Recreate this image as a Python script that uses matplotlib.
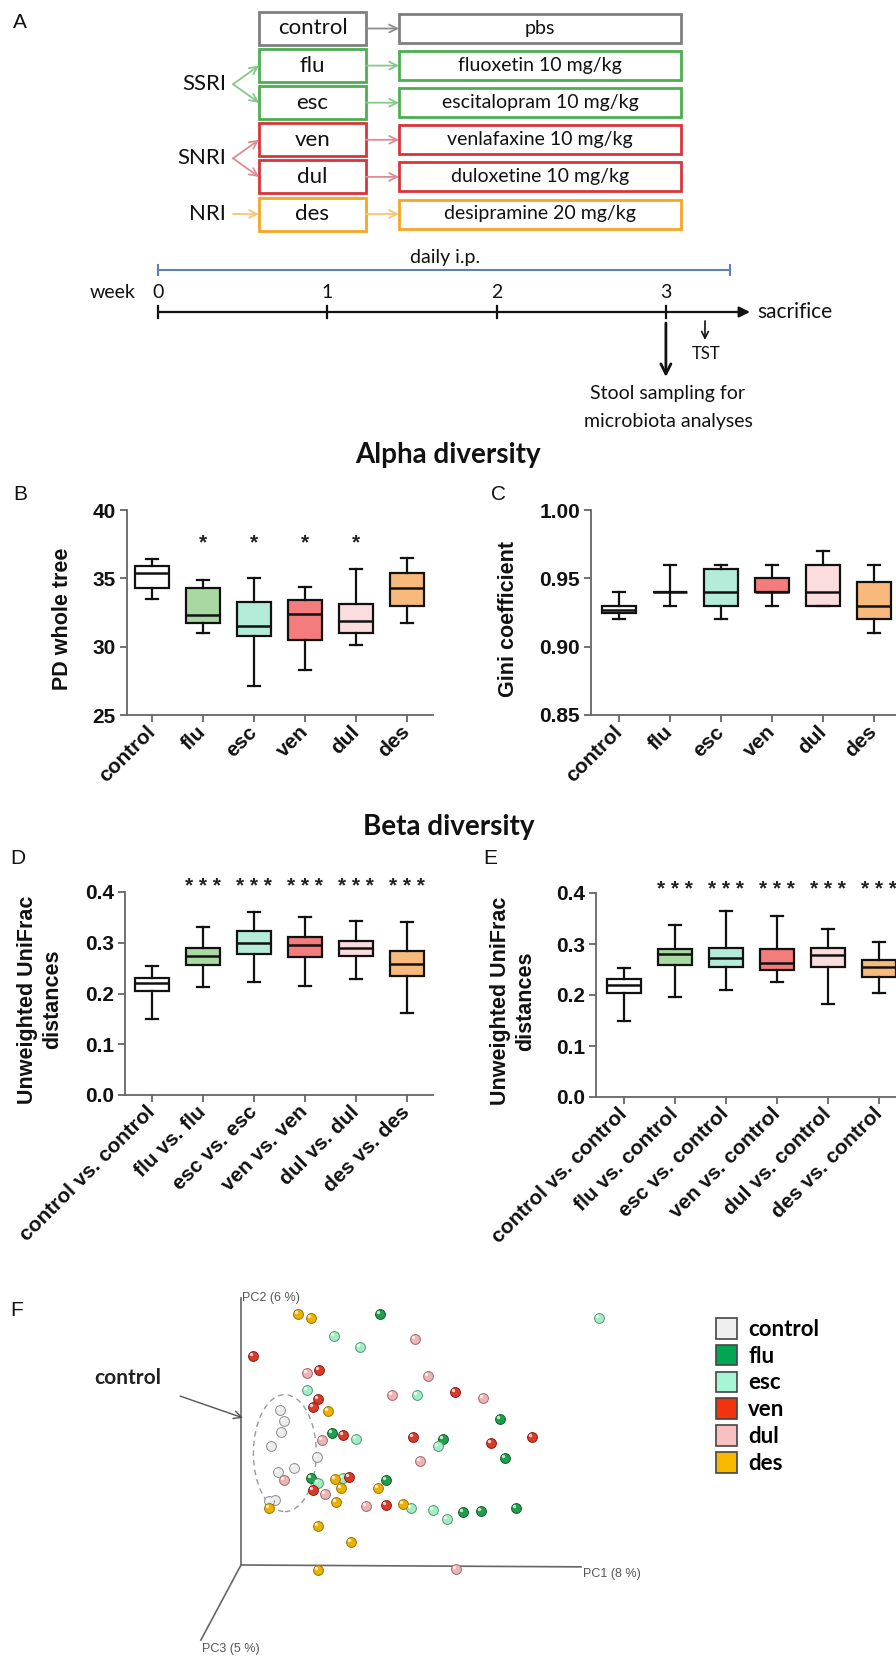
import matplotlib
matplotlib.use('Agg')
import matplotlib.pyplot as plt
from matplotlib.patches import Rectangle, Ellipse, Patch
import matplotlib.transforms as mtransforms

W, H = 896, 1657
fig = plt.figure(figsize=(W / 100, H / 100), dpi=100)

CHART_FONT = 'Liberation Sans'
DIAG_FONT = 'Lato'

# ---------------- data ----------------
groups = ['control', 'flu', 'esc', 'ven', 'dul', 'des']
box_colors = ['#ffffff', '#a9d8a2', '#b5ebd9', '#f47c7c', '#fbdde0', '#f8ba7c']

# panel A: treatments
drug_doses = ['pbs', 'fluoxetin 10 mg/kg', 'escitalopram 10 mg/kg',
              'venlafaxine 10 mg/kg', 'duloxetine 10 mg/kg', 'desipramine 20 mg/kg']
drug_class = ['', 'SSRI', 'SSRI', 'SNRI', 'SNRI', 'NRI']
edge_cols = ['#7f7f7f', '#4caf50', '#4caf50', '#d9343b', '#d9343b', '#f6a623']
arrow_cols = ['#8c8c8c', '#86c98a', '#86c98a', '#dc8c93', '#dc8c93', '#f7c57a']
weeks = [0, 1, 2, 3]

# panel B: PD whole tree
pd_low = [33.5, 31.0, 27.1, 28.3, 30.1, 31.7]
pd_q1 = [34.3, 31.7, 30.8, 30.5, 31.0, 33.0]
pd_med = [35.4, 32.3, 31.5, 32.4, 31.9, 34.3]
pd_q3 = [35.9, 34.3, 33.3, 33.4, 33.1, 35.4]
pd_high = [36.4, 34.9, 35.0, 34.4, 35.7, 36.5]
pd_sig = ['', '*', '*', '*', '*', '']

# panel C: Gini coefficient
gini_low = [0.920, 0.930, 0.920, 0.930, 0.930, 0.910]
gini_q1 = [0.925, 0.940, 0.930, 0.940, 0.930, 0.920]
gini_med = [0.927, 0.940, 0.940, 0.940, 0.940, 0.930]
gini_q3 = [0.930, 0.940, 0.957, 0.950, 0.960, 0.947]
gini_high = [0.940, 0.960, 0.960, 0.960, 0.970, 0.960]

# panel D: unweighted UniFrac within group
within_low = [0.150, 0.212, 0.222, 0.214, 0.228, 0.162]
within_q1 = [0.205, 0.256, 0.277, 0.271, 0.273, 0.234]
within_med = [0.220, 0.273, 0.300, 0.295, 0.289, 0.259]
within_q3 = [0.231, 0.289, 0.324, 0.311, 0.304, 0.284]
within_high = [0.254, 0.331, 0.361, 0.351, 0.342, 0.340]
within_sig = ['', '***', '***', '***', '***', '***']

# panel E: unweighted UniFrac vs control
vsctrl_low = [0.150, 0.197, 0.210, 0.226, 0.182, 0.203]
vsctrl_q1 = [0.203, 0.258, 0.254, 0.250, 0.254, 0.236]
vsctrl_med = [0.220, 0.280, 0.272, 0.262, 0.278, 0.254]
vsctrl_q3 = [0.232, 0.291, 0.292, 0.290, 0.292, 0.269]
vsctrl_high = [0.253, 0.338, 0.364, 0.355, 0.330, 0.304]
vsctrl_sig = ['', '***', '***', '***', '***', '***']

within_labels = [f'{g} vs. {g}' for g in groups]
vsctrl_labels = [f'{g} vs. control' for g in groups]

# panel F: PCoA scores (projected PC1 / PC2, relative to axis length)
pc1 = {
    'control': [0.115, 0.126, 0.118, 0.088, 0.224, 0.156, 0.109, 0.100, 0.082],
    'flu': [0.409, 0.268, 0.206, 0.426, 0.594, 0.762, 0.776, 0.653, 0.706, 0.809],
    'esc': [0.274, 0.350, 0.194, 0.338, 0.518, 0.226, 0.300, 0.500, 0.565, 0.579, 0.606, 1.053],
    'ven': [0.035, 0.229, 0.226, 0.212, 0.300, 0.506, 0.318, 0.212, 0.426, 0.629, 0.735, 0.856],
    'dul': [0.512, 0.194, 0.550, 0.444, 0.238, 0.526, 0.126, 0.247, 0.368, 0.712, 0.632],
    'des': [0.168, 0.206, 0.256, 0.082, 0.276, 0.294, 0.279, 0.403, 0.476, 0.226, 0.324, 0.226],
}
pc2 = {
    'control': [0.581, 0.539, 0.498, 0.446, 0.404, 0.363, 0.348, 0.243, 0.240],
    'flu': [0.940, 0.494, 0.326, 0.318, 0.472, 0.547, 0.401, 0.199, 0.202, 0.213],
    'esc': [0.858, 0.816, 0.655, 0.472, 0.637, 0.307, 0.326, 0.213, 0.206, 0.446, 0.172, 0.925],
    'ven': [0.783, 0.730, 0.622, 0.592, 0.487, 0.479, 0.330, 0.281, 0.225, 0.648, 0.457, 0.479],
    'dul': [0.846, 0.719, 0.708, 0.637, 0.468, 0.390, 0.318, 0.266, 0.221, 0.625, -0.015],
    'des': [0.940, 0.925, 0.577, 0.213, 0.322, 0.288, 0.236, 0.288, 0.228, 0.146, 0.086, -0.019],
}
sphere_cols = {'control': '#ececec', 'flu': '#1f9e4b', 'esc': '#a3ecc6',
               'ven': '#d83a2c', 'dul': '#ecb4b4', 'des': '#e9b100'}
sphere_edges = {'control': '#8a8a8a', 'flu': '#0d5e28', 'esc': '#4d9a72',
                'ven': '#8a1c12', 'dul': '#a06868', 'des': '#9a7400'}
legend_cols = ['#efefef', '#00a651', '#a8f5d6', '#f2330e', '#f8c0c0', '#f8b900']


def axes_px(x0, y0, x1, y1):
    return fig.add_axes([x0 / W, 1 - y1 / H, (x1 - x0) / W, (y1 - y0) / H])


def box_panel(ax, lo, q1, med, q3, hi, sig, sig_y, ylim, ticks, fmt, ylabel,
              labels, xlim, label_x):
    stats = [dict(whislo=a, q1=b, med=c, q3=d, whishi=e)
             for a, b, c, d, e in zip(lo, q1, med, q3, hi)]
    bp = ax.bxp(stats, positions=range(len(stats)), widths=0.68, capwidths=0.24,
                patch_artist=True, showfliers=False,
                boxprops=dict(linewidth=1.6, edgecolor='#111111'),
                medianprops=dict(color='#111111', linewidth=1.8),
                whiskerprops=dict(color='#111111', linewidth=1.6),
                capprops=dict(color='#111111', linewidth=1.6))
    for patch, c in zip(bp['boxes'], box_colors):
        patch.set_facecolor(c)
    for i, s in enumerate(sig):
        if s:
            ax.text(i, sig_y, s.replace('*', '* ').strip(), ha='center', va='center',
                    fontsize=15, fontweight='bold', family=CHART_FONT, color='#222222')
    ax.set_xlim(*xlim)
    ax.set_ylim(*ylim)
    ax.set_yticks(ticks)
    ax.set_yticklabels([fmt % t for t in ticks])
    ax.set_xticks(range(len(labels)))
    ax.set_xticklabels(labels, rotation=45, ha='right', va='center', rotation_mode='anchor')
    for sp in ['top', 'right']:
        ax.spines[sp].set_visible(False)
    for sp in ['left', 'bottom']:
        ax.spines[sp].set_color('#666666')
        ax.spines[sp].set_linewidth(1.3)
    ax.tick_params(direction='out', length=5, width=1.3, color='#666666',
                   labelsize=15, labelcolor='#111111', pad=3)
    ax.tick_params(axis='x', pad=5)
    for t in ax.get_xticklabels() + ax.get_yticklabels():
        t.set_fontweight('bold')
        t.set_family(CHART_FONT)
    ax.set_ylabel(ylabel, fontsize=15.5, fontweight='bold', family=CHART_FONT,
                  va='center', linespacing=1.25, color='#111111')
    ax.yaxis.set_label_coords(label_x, 0.47)
    ax.set_facecolor('none')


# ---------------- panels B-E ----------------
axB = axes_px(127, 510, 433, 715)
box_panel(axB, pd_low, pd_q1, pd_med, pd_q3, pd_high, pd_sig, 37.6, (25, 40),
          [25, 30, 35, 40], '%d', 'PD whole tree', groups, (-0.49, 5.51), -0.212)

axC = axes_px(591, 510, 897, 715)
box_panel(axC, gini_low, gini_q1, gini_med, gini_q3, gini_high, [''] * 6, 0, (0.85, 1.00),
          [0.85, 0.90, 0.95, 1.00], '%.2f', 'Gini coefficient', groups, (-0.55, 5.45), -0.271)

axD = axes_px(125, 892, 433, 1095)
box_panel(axD, within_low, within_q1, within_med, within_q3, within_high, within_sig, 0.41,
          (0, 0.4), [0, 0.1, 0.2, 0.3, 0.4], '%.1f', 'Unweighted UniFrac\ndistances',
          within_labels, (-0.53, 5.51), -0.276)

axE = axes_px(596, 893, 902, 1097)
box_panel(axE, vsctrl_low, vsctrl_q1, vsctrl_med, vsctrl_q3, vsctrl_high, vsctrl_sig, 0.407,
          (0, 0.4), [0, 0.1, 0.2, 0.3, 0.4], '%.1f', 'Unweighted UniFrac\ndistances',
          vsctrl_labels, (-0.55, 5.45), -0.271)

# ---------------- panel F ----------------
axF = axes_px(0, 1257, 896, 1657)
axF.set_xlim(-241 / 340, 655 / 340)
axF.set_ylim(-92 / 267, 308 / 267)
axF.axis('off')
axline = dict(color='#666666', linewidth=1.2)
axF.plot([0, 0], [0, 1], **axline)
axF.plot([0, 1], [0, -0.007], **axline)
axF.plot([0, -0.118], [0, -0.281], **axline)
pc_font = dict(fontsize=9, color='#555555', family=CHART_FONT)
axF.text(0.003, 1.0, 'PC2 (6 %)', ha='left', va='center', **pc_font)
axF.text(1.006, -0.035, 'PC1 (8 %)', ha='left', va='center', **pc_font)
axF.text(-0.115, -0.315, 'PC3 (5 %)', ha='left', va='center', **pc_font)

axF.add_patch(Ellipse((0.129, 0.419), 0.185, 0.438, fill=False, edgecolor='#9a9a9a',
                      linestyle=(0, (4, 3)), linewidth=1.0))
hl = mtransforms.offset_copy(axF.transData, fig=fig, x=-1.6, y=1.6, units='points')
for g in groups:
    axF.scatter(pc1[g], pc2[g], s=50, color=sphere_cols[g], edgecolor=sphere_edges[g],
                linewidth=0.7, zorder=3, clip_on=False)
    axF.scatter(pc1[g], pc2[g], s=6, color='white', alpha=0.75, linewidth=0,
                zorder=4, transform=hl, clip_on=False)

axF.annotate('control', xy=(0.006, 0.551), xytext=(-0.332, 0.700),
             ha='center', va='center', fontsize=15, fontweight='bold', family=DIAG_FONT,
             color='#222222',
             arrowprops=dict(arrowstyle='->', color='#555555', linewidth=1.0,
                             shrinkA=12, shrinkB=0, mutation_scale=14))

handles = [Patch(facecolor=c, edgecolor='#444444', linewidth=1.2) for c in legend_cols]
fig.legend(handles, groups, loc='upper left', bbox_to_anchor=(716 / W, 1 - 1318 / H),
           frameon=False, borderpad=0, borderaxespad=0, handlelength=0.95,
           handleheight=1.05, handletextpad=0.5, labelspacing=0.22,
           prop=dict(family=DIAG_FONT, weight='bold', size=16))

# ---------------- overlay: panel A, titles, letters ----------------
ov = fig.add_axes([0, 0, 1, 1])
ov.set_xlim(0, W)
ov.set_ylim(H, 0)
ov.axis('off')
ov.patch.set_visible(False)

row_y = [28.5 + 37.1 * i for i in range(len(groups))]
for i, g in enumerate(groups):
    yc = row_y[i]
    ov.add_patch(Rectangle((259, yc - 16.5), 107, 33, fill=False,
                           edgecolor=edge_cols[i], linewidth=2))
    ov.add_patch(Rectangle((399, yc - 14.5), 282, 29, fill=False,
                           edgecolor=edge_cols[i], linewidth=2))
    ov.text(312.5, yc, g, ha='center', va='center', fontsize=16, family=DIAG_FONT,
            color='#111111')
    ov.text(540, yc, drug_doses[i], ha='center', va='center', fontsize=14,
            family=DIAG_FONT, color='#111111')
    ov.annotate('', xy=(399, yc), xytext=(366, yc),
                arrowprops=dict(arrowstyle='->', color=arrow_cols[i], linewidth=1.3,
                                shrinkA=0, shrinkB=0, mutation_scale=14))

for cls in ['SSRI', 'SNRI', 'NRI']:
    idx = [i for i, c in enumerate(drug_class) if c == cls]
    cy = sum(row_y[i] for i in idx) / len(idx)
    ov.text(226, cy, cls, ha='right', va='center', fontsize=16, family=DIAG_FONT,
            color='#111111')
    for i in idx:
        ov.annotate('', xy=(259, row_y[i]), xytext=(233, cy),
                    arrowprops=dict(arrowstyle='->', color=arrow_cols[i], linewidth=1.3,
                                    shrinkA=0, shrinkB=0, mutation_scale=14))

# timeline
wk_x = [158 + 169.3 * w for w in weeks]
ov.plot([wk_x[0], 730], [270, 270], color='#5b7fbf', linewidth=1.5)
for x in [wk_x[0], 730]:
    ov.plot([x, x], [265, 275], color='#5b7fbf', linewidth=1.5)
ov.text(445, 257, 'daily i.p.', ha='center', va='center', fontsize=14, family=DIAG_FONT,
        color='#111111')
ov.annotate('', xy=(750, 312), xytext=(wk_x[0], 312),
            arrowprops=dict(arrowstyle='-|>', color='#111111', linewidth=1.6,
                            shrinkA=0, shrinkB=0, mutation_scale=16))
for w, x in zip(weeks, wk_x):
    ov.plot([x, x], [306, 318], color='#111111', linewidth=1.6)
    ov.text(x, 292, str(w), ha='center', va='center', fontsize=14, family=DIAG_FONT,
            color='#111111')
ov.text(113, 292, 'week', ha='center', va='center', fontsize=14, family=DIAG_FONT,
        color='#111111')
ov.text(757, 312, 'sacrifice', ha='left', va='center', fontsize=15, family=DIAG_FONT,
        color='#111111')
ov.annotate('', xy=(705, 340), xytext=(705, 321),
            arrowprops=dict(arrowstyle='->', color='#111111', linewidth=1.2,
                            shrinkA=0, shrinkB=0, mutation_scale=12))
ov.text(706, 354, 'TST', ha='center', va='center', fontsize=12, family=DIAG_FONT,
        color='#111111')
ov.annotate('', xy=(wk_x[3], 377), xytext=(wk_x[3], 323),
            arrowprops=dict(arrowstyle='->', color='#111111', linewidth=2,
                            shrinkA=0, shrinkB=0, mutation_scale=18))
ov.text(668, 394, 'Stool sampling for', ha='center', va='center', fontsize=14,
        family=DIAG_FONT, color='#111111')
ov.text(668, 421, 'microbiota analyses', ha='center', va='center', fontsize=14,
        family=DIAG_FONT, color='#111111')

ov.text(448, 455, 'Alpha diversity', ha='center', va='center', fontsize=20,
        fontweight='bold', family=DIAG_FONT, color='#111111')
ov.text(449, 827, 'Beta diversity', ha='center', va='center', fontsize=20,
        fontweight='bold', family=DIAG_FONT, color='#111111')

for letter, x, y in [('A', 20, 22), ('B', 20, 495), ('C', 498, 495),
                     ('D', 18, 858), ('E', 490, 858), ('F', 17, 1310)]:
    ov.text(x, y, letter, ha='center', va='center', fontsize=15, family=CHART_FONT,
            color='#111111')

fig.savefig('out.png', dpi=100)
